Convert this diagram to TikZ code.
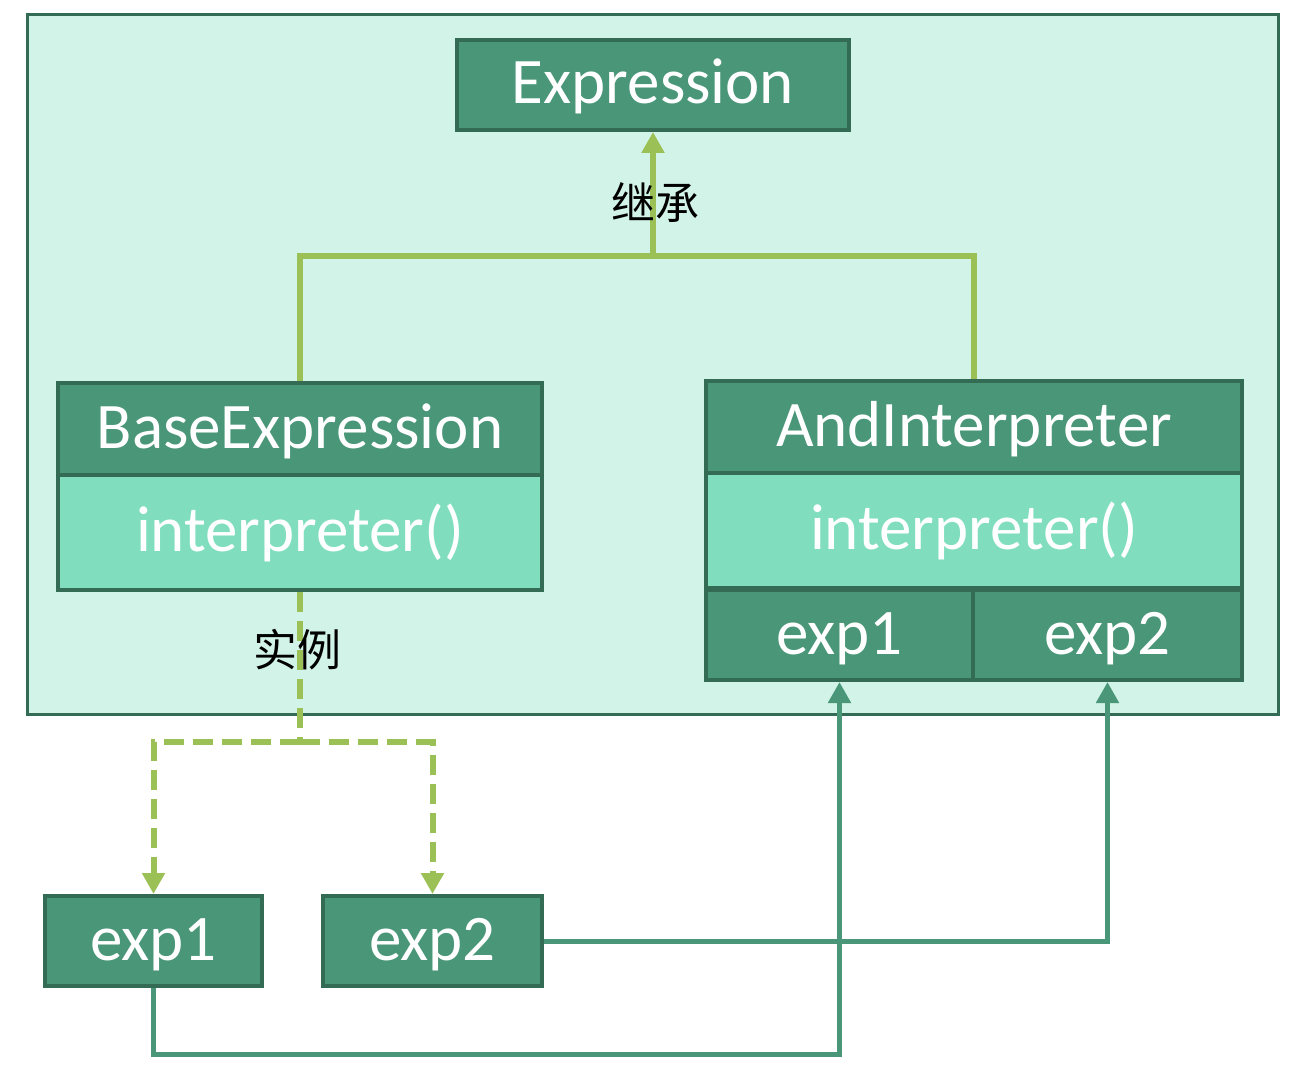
\documentclass[tikz,border=0pt]{standalone}
\usepackage{fontspec}
\setmainfont{Carlito}
\newfontfamily\cjk{Noto Sans CJK SC}
\usetikzlibrary{arrows.meta}
\definecolor{dkfill}{HTML}{4A9679}
\definecolor{dkline}{HTML}{336B55}
\definecolor{ltfill}{HTML}{80DEBE}
\definecolor{bgfill}{HTML}{D2F4E8}
\definecolor{lgreen}{HTML}{9BC156}
\begin{document}
\begin{tikzpicture}[x=1pt,y=-1pt,
  box/.style={draw=dkline,line width=4pt,fill=dkfill,text=white,rectangle,inner sep=0pt,
    text height=46pt,text depth=8pt,
    font=\fontsize{65}{70}\selectfont},
  lbox/.style={box,fill=ltfill},
  inh/.style={draw=lgreen,line width=6pt},
  inst/.style={draw=lgreen,line width=6pt,dash pattern=on 20pt off 9pt},
  refl/.style={draw=dkfill,line width=5pt},
  tip/.style={-{Triangle[width=22pt,length=21pt]}},
  lab/.style={font=\cjk\fontsize{44}{48}\selectfont,text=black,inner sep=0pt}]
\useasboundingbox (0,0) rectangle (1306,1086);
\node[draw=dkline,line width=3pt,fill=bgfill,minimum width=1251pt,minimum height=699pt,inner sep=0pt] (bg) at (652.5,364.5) {};
\node[box,minimum width=392pt,minimum height=90pt] (expr) at (653,85) {Expression};
\node[lbox,minimum width=484pt,minimum height=115pt] (bbody) at (300,532.5) {interpreter()};
\node[box,minimum width=484pt,minimum height=92pt] (bhead) at (300,429) {BaseExpression};
\node[lbox,minimum width=536pt,minimum height=115pt] (abody) at (974,530.5) {interpreter()};
\node[box,minimum width=536pt,minimum height=92pt] (ahead) at (974,427) {AndInterpreter};
\node[box,minimum width=267pt,minimum height=90pt] (ae1) at (839.5,635) {exp1};
\node[box,minimum width=269pt,minimum height=90pt] (ae2) at (1107.5,635) {exp2};
\node[box,minimum width=217pt,minimum height=90pt] (e1) at (153.5,941) {exp1};
\node[box,minimum width=219pt,minimum height=90pt] (e2) at (432.5,941) {exp2};
\coordinate (jy) at (0,256);
\coordinate (dy) at (0,742);
\draw[inh] (bhead.north) -- (bhead.north |- jy) -| (ahead.north);
\draw[inh,tip] (expr.south |- jy) -- (expr.south);
\node[lab] (l1) at (655,203) {继承};
\draw[inst] (bbody.south) -- (bbody.south |- dy);
\draw[inst,tip] (bbody.south |- dy) -| (e1.north);
\draw[inst,tip] (bbody.south |- dy) -| (e2.north);
\node[lab] (l2) at (297,650) {实例};
\draw[refl,tip] (e1.south) -- ++(0,66) -| (ae1.south);
\draw[refl,tip] (e2.east) -| (ae2.south);
\end{tikzpicture}
\end{document}
